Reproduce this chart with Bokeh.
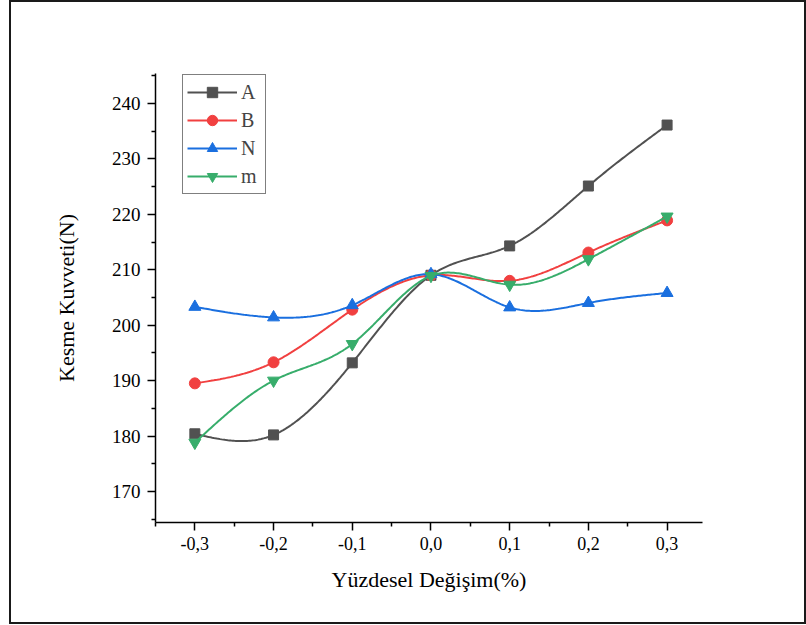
import numpy as np
from bokeh.plotting import figure
from bokeh.models import FixedTicker, Legend, LegendItem, Range1d
from bokeh.embed import file_html
from bokeh.resources import INLINE

# ---- data ----
x_vals = [-0.3, -0.2, -0.1, 0.0, 0.1, 0.2, 0.3]
x_tick_labels = ["-0,3", "-0,2", "-0,1", "0,0", "0,1", "0,2", "0,3"]
y_ticks = [170, 180, 190, 200, 210, 220, 230, 240]

series_names = ["A", "B", "N", "m"]
A_vals = [180.4, 180.2, 193.2, 209.0, 214.3, 225.1, 236.1]
B_vals = [189.5, 193.3, 202.8, 209.0, 208.0, 213.1, 218.9]
N_vals = [203.3, 201.4, 203.6, 209.2, 203.2, 204.0, 205.8]
m_vals = [178.8, 190.0, 196.6, 208.9, 207.3, 211.9, 219.6]

colors = ["#515151", "#F14040", "#1A6FDF", "#37AD6B"]
markers = ["square", "circle", "triangle", "inverted_triangle"]
marker_sizes = [10, 11, 12, 12]

FONT = "Liberation Serif"


def natural_spline(x, y, n=300):
    x = np.asarray(x, float)
    y = np.asarray(y, float)
    k = len(x)
    h = np.diff(x)
    A = np.zeros((k, k))
    r = np.zeros(k)
    A[0, 0] = 1.0
    A[-1, -1] = 1.0
    for i in range(1, k - 1):
        A[i, i - 1] = h[i - 1]
        A[i, i] = 2 * (h[i - 1] + h[i])
        A[i, i + 1] = h[i]
        r[i] = 6 * ((y[i + 1] - y[i]) / h[i] - (y[i] - y[i - 1]) / h[i - 1])
    M = np.linalg.solve(A, r)
    xs = np.linspace(x[0], x[-1], n)
    ys = np.empty_like(xs)
    for j, t in enumerate(xs):
        i = min(np.searchsorted(x, t, side="right") - 1, k - 2)
        i = max(i, 0)
        a = x[i + 1] - t
        b = t - x[i]
        ys[j] = (M[i] * a ** 3 / (6 * h[i]) + M[i + 1] * b ** 3 / (6 * h[i])
                 + (y[i] / h[i] - M[i] * h[i] / 6) * a
                 + (y[i + 1] / h[i] - M[i + 1] * h[i] / 6) * b)
    return xs, ys


p = figure(width=797, height=624, output_backend="svg", toolbar_location=None,
           x_range=Range1d(-0.35, 0.345), y_range=Range1d(164.4, 245.4),
           min_border_left=144, min_border_right=106, min_border_top=71,
           min_border_bottom=104, background_fill_color="white",
           border_fill_color="white", outline_line_color=None,
           styles={"border": "2px solid #1a1a1a", "margin-left": "9px"})

p.xgrid.visible = False
p.ygrid.visible = False

xax = p.xaxis[0]
yax = p.yaxis[0]
xax.ticker = FixedTicker(ticks=x_vals, minor_ticks=[-0.35, -0.25, -0.15, -0.05, 0.05, 0.15, 0.25, 0.35])
xax.major_label_overrides = {v: s for v, s in zip(x_vals, x_tick_labels)}
yax.ticker = FixedTicker(ticks=y_ticks, minor_ticks=[165, 175, 185, 195, 205, 215, 225, 235, 245])

for ax in (xax, yax):
    ax.axis_line_color = "black"
    ax.axis_line_width = 1.5
    ax.major_tick_line_color = "black"
    ax.major_tick_line_width = 1.5
    ax.minor_tick_line_color = "black"
    ax.minor_tick_line_width = 1.5
    ax.major_tick_out = 8
    ax.major_tick_in = 0
    ax.minor_tick_out = 4
    ax.minor_tick_in = 0
    ax.major_label_text_font = FONT
    ax.major_label_text_color = "black"
    ax.axis_label_text_font = FONT
    ax.axis_label_text_font_size = "22px"
    ax.axis_label_text_font_style = "normal"
    ax.axis_label_text_color = "black"

xax.major_label_text_font_size = "18px"
yax.major_label_text_font_size = "19px"
xax.axis_label = "Yüzdesel Değişim(%)"
yax.axis_label = "Kesme Kuvveti(N)"
xax.major_label_standoff = 6
yax.major_label_standoff = 7
xax.axis_label_standoff = 14
yax.axis_label_standoff = 30

items = []
for name, vals, c, mk, ms in zip(series_names, [A_vals, B_vals, N_vals, m_vals],
                                 colors, markers, marker_sizes):
    sx, sy = natural_spline(x_vals, vals)
    lr = p.line(sx, sy, line_color=c, line_width=2)
    sr = p.scatter(x_vals, vals, marker=mk, size=ms, fill_color=c, line_color=c)
    items.append(LegendItem(label=name, renderers=[lr, sr]))

legend = Legend(items=items, location=(27, 328), orientation="vertical",
                border_line_color="black", border_line_width=1,
                background_fill_color="white", background_fill_alpha=1,
                label_text_font=FONT, label_text_font_size="20px",
                glyph_width=50, glyph_height=26, label_height=26,
                spacing=2, padding=4, margin=0, label_standoff=4)
p.add_layout(legend, "center")

open("out.html", "w").write(file_html(p, INLINE))
